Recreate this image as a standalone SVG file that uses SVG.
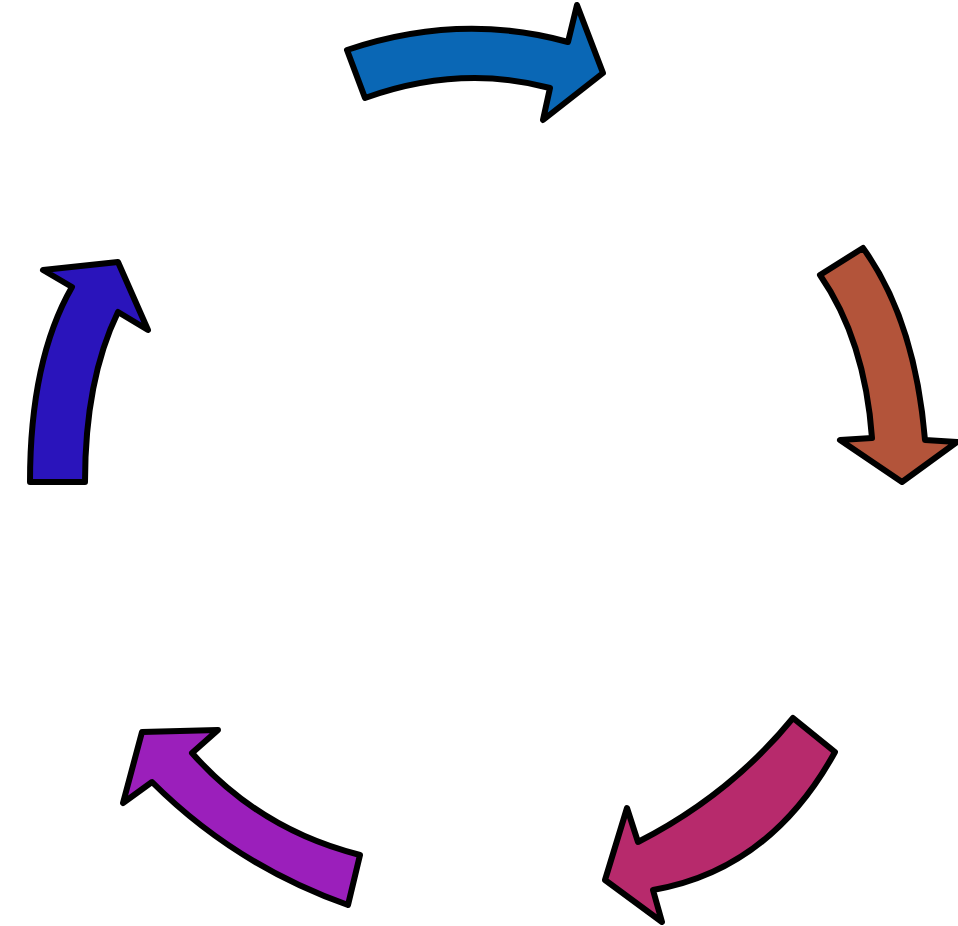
<svg xmlns="http://www.w3.org/2000/svg" width="958" height="926" viewBox="0 0 958 926">
<style>
.arr{stroke:#000;stroke-width:6;stroke-linejoin:round}
</style>
<rect width="958" height="926" fill="#fff"/>
<g id="connectors">
<g id="arrow-top"><path class="arr" fill="#0a67b5" d="M347,50 Q460,12 568,42 L577,5 L603,73 L543,120 L550,88 Q460,64 365,98 Z"/></g>
<g id="arrow-right"><path class="arr" fill="#b3543a" d="M820,275 L863,248 Q915,320 925,440 L957,442 L902,482 L840,440 L872,438 Q865,340 820,275 Z"/></g>
<g id="arrow-bottom-right"><path class="arr" fill="#b72a6c" d="M793,718 L835,752 Q770,870 653,890 L662,922 L605,880 L627,808 L638,842 Q730,795 793,718 Z"/></g>
<g id="arrow-bottom-left"><path class="arr" fill="#9b1fbb" d="M142,732 L218,730 L192,753 Q260,830 360,855 L348,905 Q235,865 152,782 L123,803 Z"/></g>
<g id="arrow-left"><path class="arr" fill="#2a14bb" d="M30,482 Q30,360 72,287 L43,270 L118,262 L148,330 L118,312 Q85,380 85,482 Z"/></g>
</g>
</svg>
